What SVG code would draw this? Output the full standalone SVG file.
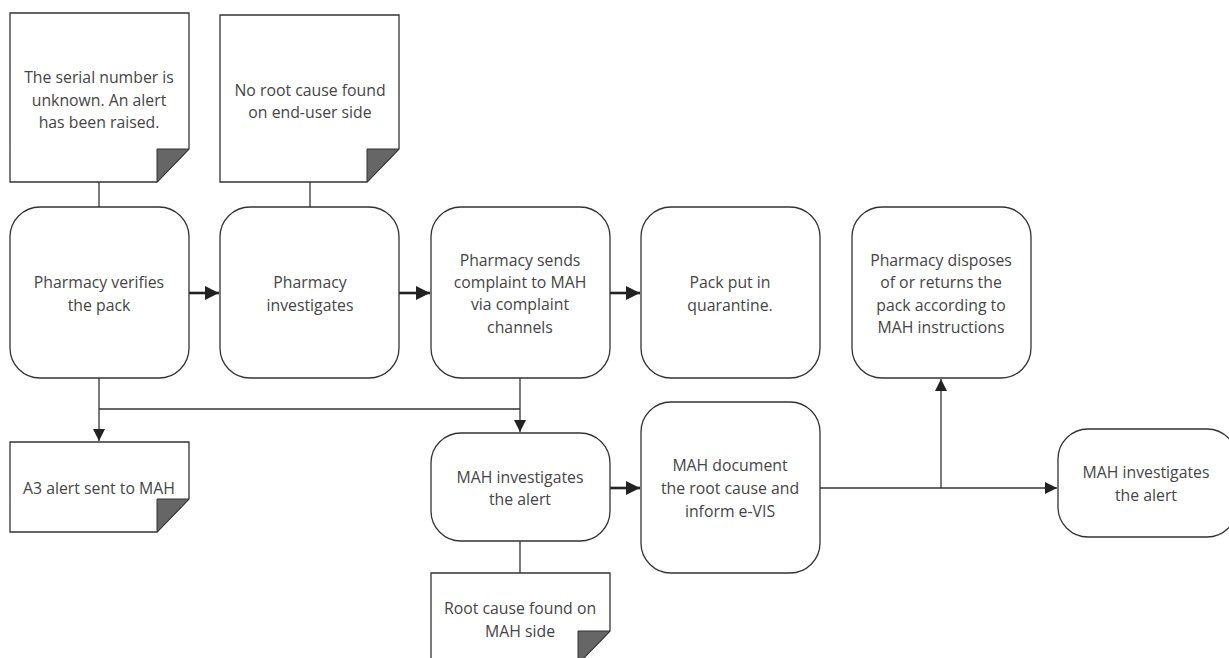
<svg xmlns="http://www.w3.org/2000/svg" width="1229" height="658" viewBox="0 0 1229 658">
<style>
.box{fill:#fff;stroke:#333;stroke-width:1.3}
.note{fill:#fff;stroke:#333;stroke-width:1.3}
.fold{fill:#666;stroke:#333;stroke-width:1}
.t{font-family:"Open Sans","Liberation Sans",sans-serif;font-size:15.8px;fill:#454545;text-anchor:middle}
.ln{fill:none;stroke:#333;stroke-width:1.3}
.th{fill:none;stroke:#222;stroke-width:2.6}
</style>
<defs>
<marker id="ah" markerWidth="12" markerHeight="12" refX="12" refY="6" orient="auto" markerUnits="userSpaceOnUse">
<path d="M0,0 L12,6 L0,12 Z" fill="#222"/>
</marker>
<marker id="ahb" markerWidth="14" markerHeight="14" refX="14" refY="7" orient="auto" markerUnits="userSpaceOnUse">
<path d="M0,0 L14,7 L0,14 Z" fill="#222"/>
</marker>
</defs>
<rect width="1229" height="658" fill="#fff"/>
<g id="connectors">
<line class="ln" x1="99" y1="182" x2="99" y2="207"/>
<line class="ln" x1="310" y1="182" x2="310" y2="207"/>
<line class="th" x1="189" y1="293" x2="219" y2="293" marker-end="url(#ahb)"/>
<line class="th" x1="399" y1="293" x2="430" y2="293" marker-end="url(#ahb)"/>
<line class="th" x1="610" y1="293" x2="640" y2="293" marker-end="url(#ahb)"/>
<line class="ln" x1="99" y1="378" x2="99" y2="441" marker-end="url(#ah)"/>
<polyline class="ln" points="99,409 520,409"/>
<line class="ln" x1="520" y1="378" x2="520" y2="432" marker-end="url(#ah)"/>
<line class="th" x1="610" y1="488" x2="640" y2="488" marker-end="url(#ahb)"/>
<line class="ln" x1="520" y1="541" x2="520" y2="573"/>
<line class="ln" x1="820" y1="488" x2="1057" y2="488" marker-end="url(#ah)"/>
<line class="ln" x1="941" y1="488" x2="941" y2="379" marker-end="url(#ah)"/>
</g>
<g id="note1">
<path class="note" d="M10,13 H189 V149 L157,182 H10 Z"/>
<path class="fold" d="M157,149 H189 L157,182 Z"/>
<text class="t" x="99" y="83">The serial number is</text>
<text class="t" x="99" y="106">unknown. An alert</text>
<text class="t" x="99" y="128">has been raised.</text>
</g>
<g id="note2">
<path class="note" d="M220,15 H399 V149 L367,182 H220 Z"/>
<path class="fold" d="M367,149 H399 L367,182 Z"/>
<text class="t" x="310" y="96">No root cause found</text>
<text class="t" x="310" y="118">on end-user side</text>
</g>
<g id="box1">
<rect class="box" x="10" y="207" width="179" height="171" rx="30"/>
<text class="t" x="99" y="288">Pharmacy verifies</text>
<text class="t" x="99" y="311">the pack</text>
</g>
<g id="box2">
<rect class="box" x="220" y="207" width="179" height="171" rx="30"/>
<text class="t" x="310" y="288">Pharmacy</text>
<text class="t" x="310" y="311">investigates</text>
</g>
<g id="box3">
<rect class="box" x="431" y="207" width="179" height="171" rx="30"/>
<text class="t" x="520" y="266">Pharmacy sends</text>
<text class="t" x="520" y="288">complaint to MAH</text>
<text class="t" x="520" y="310">via complaint</text>
<text class="t" x="520" y="333">channels</text>
</g>
<g id="box4">
<rect class="box" x="641" y="207" width="179" height="171" rx="30"/>
<text class="t" x="730" y="288">Pack put in</text>
<text class="t" x="730" y="311">quarantine.</text>
</g>
<g id="box5">
<rect class="box" x="852" y="207" width="179" height="171" rx="30"/>
<text class="t" x="941" y="266">Pharmacy disposes</text>
<text class="t" x="941" y="288">of or returns the</text>
<text class="t" x="941" y="311">pack according to</text>
<text class="t" x="941" y="333">MAH instructions</text>
</g>
<g id="note3">
<path class="note" d="M10,442 H189 V499 L157,532 H10 Z"/>
<path class="fold" d="M157,499 H189 L157,532 Z"/>
<text class="t" x="99" y="494">A3 alert sent to MAH</text>
</g>
<g id="box6">
<rect class="box" x="431" y="433" width="179" height="108" rx="30"/>
<text class="t" x="520" y="483">MAH investigates</text>
<text class="t" x="520" y="505">the alert</text>
</g>
<g id="box7">
<rect class="box" x="641" y="402" width="179" height="171" rx="30"/>
<text class="t" x="730" y="471">MAH document</text>
<text class="t" x="730" y="494">the root cause and</text>
<text class="t" x="730" y="517">inform e-VIS</text>
</g>
<g id="note4">
<path class="note" d="M431,573 H610 V631 L578,664 H431 Z"/>
<path class="fold" d="M578,631 H610 L578,664 Z"/>
<text class="t" x="520" y="614">Root cause found on</text>
<text class="t" x="520" y="637">MAH side</text>
</g>
<g id="box8">
<rect class="box" x="1058" y="429" width="179" height="108" rx="30"/>
<text class="t" x="1146" y="478">MAH investigates</text>
<text class="t" x="1146" y="501">the alert</text>
</g>
</svg>
